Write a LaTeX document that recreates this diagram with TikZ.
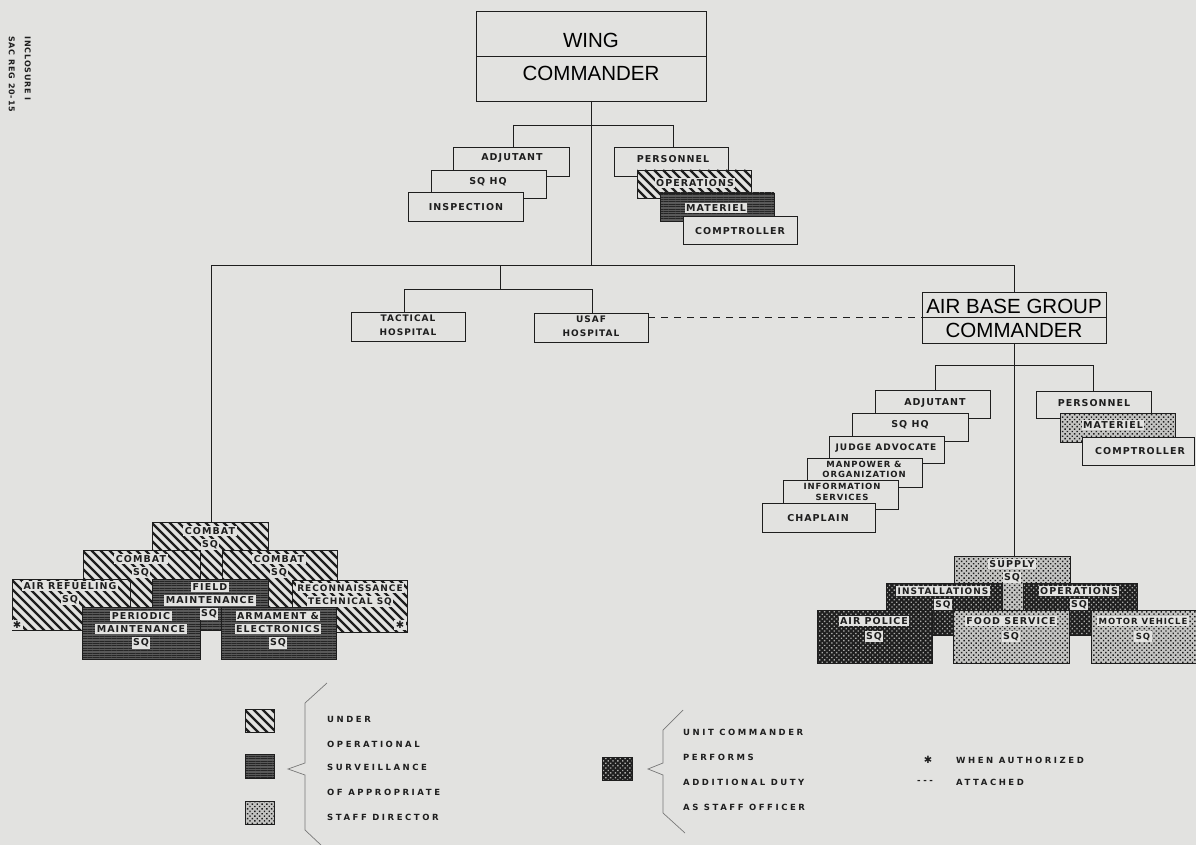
\documentclass[tikz,border=0pt]{standalone}
\usepackage{fontspec}
\setmainfont{DejaVu Sans}
\newfontfamily\lblf[LetterSpace=11]{DejaVu Sans}
\newfontfamily\wlf[LetterSpace=30]{DejaVu Sans}
\newfontfamily\titlef{Liberation Sans}
\usetikzlibrary{patterns.meta,calc}
\definecolor{paper}{RGB}{226,226,224}
\definecolor{ink}{RGB}{30,30,30}
\definecolor{midg}{RGB}{90,90,90}
\definecolor{lightg}{RGB}{196,196,194}
\definecolor{dotg}{RGB}{170,170,168}
\definecolor{bracec}{RGB}{120,120,120}
\setlength\fboxsep{1.5pt}
\newcommand\wb[1]{\colorbox{paper}{#1}}
\newcommand\mybox[6][box]{\node[#1, minimum width={(#4-#2)*1pt}, minimum height={(#5-#3)*1pt}, anchor=north west] (#6) at (#2,#3) {};}
\tikzset{
  frame/.style={draw=ink, line width=0.9pt, inner sep=0pt, outer sep=0pt},
  box/.style={frame, fill=paper},
  hatchbox/.style={frame, fill=paper, path picture={
      \foreach \i in {-100,-91,...,140} {\draw[ink,line width=2.3pt] ([xshift=\i pt]path picture bounding box.north west) -- ++(95pt,-95pt);}
    }},
  linebox/.style={frame, preaction={fill=midg}, pattern={Lines[angle=0,distance=2.4pt,line width=0.9pt]}, pattern color=black!85},
  lightbox/.style={frame, preaction={fill=lightg}, pattern={Dots[distance=3.4pt,radius=1.0pt,angle=45]}, pattern color=ink},
  darkbox/.style={frame, preaction={fill=black!88}, pattern={Dots[distance=3.4pt,radius=0.95pt,angle=45]}, pattern color=dotg},
  lbl/.style={font=\lblf\bfseries\fontsize{9.5}{13}\selectfont, inner sep=0pt, text=ink, align=center},
  slbl/.style={font=\lblf\bfseries\fontsize{8.5}{10.5}\selectfont, inner sep=0pt, text=ink, align=center},
  leg/.style={font=\wlf\bfseries\fontsize{8.5}{9}\selectfont, inner sep=0pt, text=ink, anchor=west},
  title/.style={font=\titlef\fontsize{20.5}{22}\selectfont, inner sep=0pt, text=black},
  conn/.style={draw=ink, line width=0.9pt},
  brace/.style={draw=bracec, line width=0.7pt}
}
\begin{document}
\begin{tikzpicture}[x=1pt,y=-1pt]
\fill[paper] (0,0) rectangle (1196,845);
\useasboundingbox (0,0) rectangle (1196,845);
\clip (0,0) rectangle (1196,845);

% margin text
\node[font=\lblf\bfseries\fontsize{8}{16}\selectfont, text=ink, inner sep=0pt, align=left, rotate=-90, anchor=north west] (incl) at (31,36) {INCLOSURE I\\SAC REG 20-15};

% wing commander
\mybox{476}{11}{706}{101}{wing}
\draw[conn] (wing.west) -- (wing.east);
\node[title] (wingA) at (591,40) {WING};
\node[title] (wingB) at (591,73) {COMMANDER};

% wing staff left
\mybox{453}{147}{569}{176}{adj}
\mybox{431}{170}{546}{198}{sqhq}
\mybox{408}{192}{523}{221}{insp}
\node[lbl] (adjT) at (512,158) {ADJUTANT};
\node[lbl] (sqhqT) at (488,182) {SQ HQ};
\node[lbl] (inspT) at (466,207) {INSPECTION};

% wing staff right
\mybox{614}{147}{728}{176}{per}
\mybox[hatchbox]{637}{170}{751}{198}{ops}
\mybox[linebox]{660}{193}{774}{221}{mat}
\mybox{683}{216}{797}{244}{comp}
\node[lbl] (perT) at (673,159) {PERSONNEL};
\node[lbl] (opsT) at (695,183) {\wb{OPERATIONS}};
\node[lbl] (matT) at (716,208) {\wb{MATERIEL}};
\node[lbl] (compT) at (740,231) {COMPTROLLER};

% hospitals
\mybox{351}{312}{465}{341}{tac}
\mybox{534}{313}{648}{342}{usaf}
\node[lbl,font=\lblf\bfseries\fontsize{9}{14}\selectfont] (tacT) at (408,325) {TACTICAL\\HOSPITAL};
\node[lbl,font=\lblf\bfseries\fontsize{9}{14}\selectfont] (usafT) at (591,326) {USAF\\HOSPITAL};

% air base group commander
\mybox{922}{292}{1106}{343}{abg}
\draw[conn] (abg.west) -- (abg.east);
\node[title] (abgA) at (1014,306) {AIR BASE GROUP};
\node[title] (abgB) at (1014,330) {COMMANDER};

% ABG staff left
\mybox{875}{390}{990}{418}{aadj}
\mybox{852}{413}{968}{441}{asq}
\mybox{829}{436}{944}{463}{ajud}
\mybox{807}{458}{922}{487}{aman}
\mybox{783}{480}{898}{509}{ainf}
\mybox{762}{503}{875}{532}{achap}
\node[lbl] (aadjT) at (935,403) {ADJUTANT};
\node[lbl] (asqT) at (910,425) {SQ HQ};
\node[lbl,font=\lblf\bfseries\fontsize{9}{13}\selectfont] (ajudT) at (886,448) {JUDGE ADVOCATE};
\node[slbl,font=\lblf\bfseries\fontsize{8.5}{10}\selectfont] (amanT) at (864,469) {MANPOWER \&\\ORGANIZATION};
\node[slbl] (ainfT) at (842,492) {INFORMATION\\SERVICES};
\node[lbl] (achapT) at (818,518) {CHAPLAIN};

% ABG staff right
\mybox{1036}{391}{1151}{418}{aper}
\mybox[lightbox]{1060}{413}{1175}{442}{amat}
\mybox{1082}{437}{1194}{465}{acomp}
\node[lbl] (aperT) at (1094,403) {PERSONNEL};
\node[lbl] (amatT) at (1113,425) {\wb{MATERIEL}};
\node[lbl] (acompT) at (1140,451) {COMPTROLLER};

% left squadron cluster
\mybox[hatchbox]{152}{522}{268}{600}{cb1}
\mybox[hatchbox]{83}{550}{200}{610}{cb2}
\mybox[hatchbox]{222}{550}{337}{610}{cb3}
\mybox[hatchbox]{12}{579}{130}{630}{aref}
\mybox[hatchbox]{292}{580}{407}{632}{rec}
\mybox[linebox]{152}{579}{268}{630}{fm}
\mybox[linebox]{82}{607}{200}{659}{pm}
\mybox[linebox]{221}{607}{336}{659}{arm}
\node[lbl] (cb1T) at (210,538) {\wb{COMBAT}\\\wb{SQ}};
\node[lbl] (cb2T) at (141,566) {\wb{COMBAT}\\\wb{SQ}};
\node[lbl] (cb3T) at (279,566) {\wb{COMBAT}\\\wb{SQ}};
\node[lbl] (arefT) at (70,593) {\wb{AIR REFUELING}\\\wb{SQ}};
\node[lbl,font=\bfseries\fontsize{10}{10}\selectfont] (arefS) at (17,625) {\wb{✱}};
\node[lbl,font=\lblf\bfseries\fontsize{9}{13}\selectfont] (recT) at (350,595) {\wb{RECONNAISSANCE}\\\wb{TECHNICAL SQ}};
\node[lbl,font=\bfseries\fontsize{10}{10}\selectfont] (recS) at (400,625) {\wb{✱}};
\node[lbl] (fmT) at (210,594) {\wb{FIELD}\\\wb{MAINTENANCE}};
\node[lbl] (fmS) at (209,614) {\wb{SQ}};
\node[lbl] (pmT) at (141,630) {\wb{PERIODIC}\\\wb{MAINTENANCE}\\\wb{SQ}};
\node[lbl] (armT) at (278,630) {\wb{ARMAMENT \&}\\\wb{ELECTRONICS}\\\wb{SQ}};

% right squadron cluster
\mybox[lightbox]{954}{556}{1070}{615}{sup}
\mybox[darkbox]{886}{583}{1002}{635}{inst}
\mybox[darkbox]{1023}{583}{1137}{635}{opsq}
\mybox[darkbox]{817}{610}{932}{663}{ap}
\mybox[lightbox]{953}{610}{1069}{663}{fs}
\mybox[lightbox]{1091}{610}{1215}{663}{mv}
\node[lbl] (supT) at (1012,571) {\wb{SUPPLY}\\\wb{SQ}};
\node[lbl,font=\lblf\bfseries\fontsize{9}{13}\selectfont] (instT) at (943,598) {\wb{INSTALLATIONS}\\\wb{SQ}};
\node[lbl] (opsqT) at (1079,598) {\wb{OPERATIONS}\\\wb{SQ}};
\node[lbl,font=\lblf\bfseries\fontsize{9.5}{15}\selectfont] (apT) at (874,629) {\wb{AIR POLICE}\\\wb{SQ}};
\node[lbl,font=\lblf\bfseries\fontsize{9.5}{15}\selectfont] (fsT) at (1011,629) {\wb{FOOD SERVICE}\\\wb{SQ}};
\node[lbl,font=\lblf\bfseries\fontsize{8.5}{15}\selectfont] (mvT) at (1143,629) {\wb{MOTOR VEHICLE}\\\wb{SQ}};

% connectors
\coordinate (jl) at (513,125);
\coordinate (jr) at (673,125);
\coordinate (m) at (592,265);
\coordinate (ml) at (211,265);
\coordinate (mr) at (1014,265);
\coordinate (h) at (500,265);
\coordinate (hb) at (500,289);
\coordinate (hl) at (404,289);
\coordinate (hr) at (592,289);
\coordinate (kl) at (935,365);
\coordinate (kr) at (1093,365);
\draw[conn] (wing.south) -- (wing.south |- m);
\draw[conn] (jl) -- (jr);
\draw[conn] (jl) -- (jl |- adj.north);
\draw[conn] (jr) -- (jr |- per.north);
\draw[conn] (ml) -- (mr);
\draw[conn] (ml) -- (ml |- cb1.north);
\draw[conn] (mr) -- (mr |- abg.north);
\draw[conn] (h) -- (hb);
\draw[conn] (hl) -- (hr);
\draw[conn] (hl) -- (hl |- tac.north);
\draw[conn] (hr) -- (hr |- usaf.north);
\draw[conn, dash pattern=on 7pt off 6pt] (usaf.east |- abg.west) -- (abg.west);
\draw[conn] (abg.south) -- (abg.south |- sup.north);
\draw[conn] (kl) -- (kr);
\draw[conn] (kl) -- (kl |- aadj.north);
\draw[conn] (kr) -- (kr |- aper.north);

% legend
\mybox[hatchbox]{245}{709}{274}{732}{lg1}
\mybox[linebox]{245}{754}{274}{778}{lg2}
\mybox[lightbox]{245}{801}{274}{824}{lg3}
\draw[brace] (327,683) -- (305,703) -- (305,763) -- (288,769) -- (305,775) -- (305,830) -- (322,846);
\node[leg] (l1) at (327,719) {UNDER};
\node[leg] (l2) at (327,744) {OPERATIONAL};
\node[leg] (l3) at (327,767) {SURVEILLANCE};
\node[leg] (l4) at (327,792) {OF APPROPRIATE};
\node[leg] (l5) at (327,817) {STAFF DIRECTOR};

\mybox[darkbox]{602}{757}{632}{780}{lg4}
\draw[brace] (683,710) -- (663,730) -- (663,763) -- (648,769) -- (663,775) -- (663,813) -- (685,833);
\node[leg] (u1) at (683,732) {UNIT COMMANDER};
\node[leg] (u2) at (683,757) {PERFORMS};
\node[leg] (u3) at (683,782) {ADDITIONAL DUTY};
\node[leg] (u4) at (683,807) {AS STAFF OFFICER};

\node[font=\bfseries\fontsize{10}{10}\selectfont, text=ink, inner sep=0pt] (ast) at (928,760) {✱};
\node[leg] (wa) at (956,760) {WHEN AUTHORIZED};
\node[leg] (dsh) at (917,782) {-{}-{}-};
\node[leg] (att) at (956,782) {ATTACHED};
\end{tikzpicture}
\end{document}
